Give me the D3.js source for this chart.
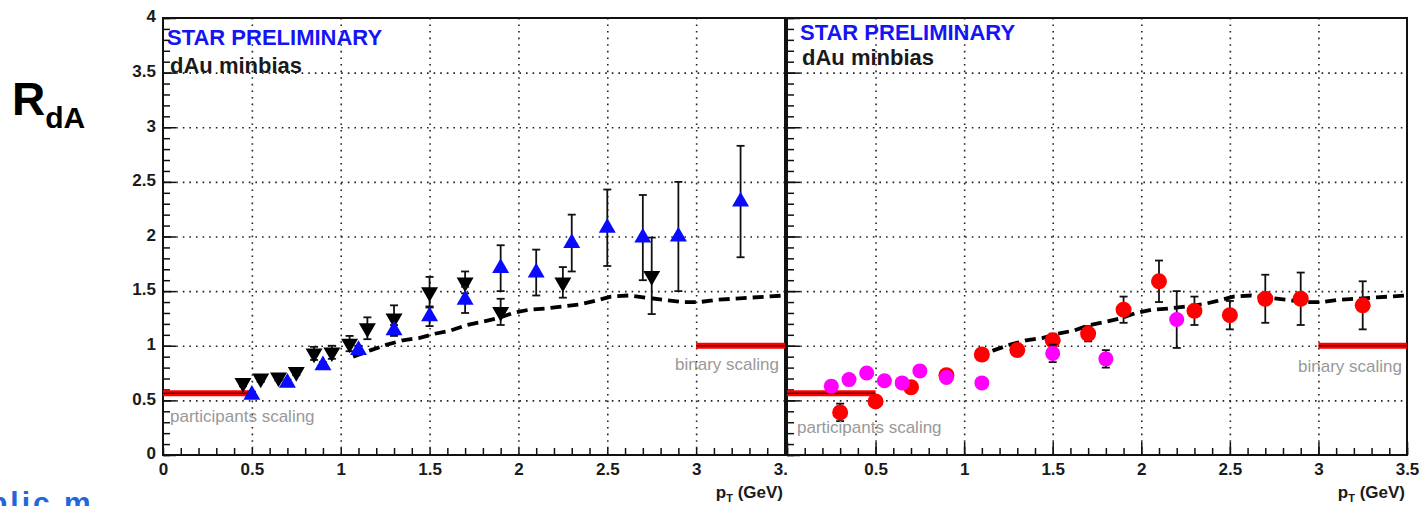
<!DOCTYPE html>
<html><head><meta charset="utf-8">
<script src="https://cdn.jsdelivr.net/npm/d3@7"></script>
<style>
html,body{margin:0;padding:0;background:#fff;}
svg{display:block;font-family:"Liberation Sans",Arial,Helvetica,sans-serif;}
</style></head><body>
<svg id="c" width="1423" height="506"></svg>
<script>
// ---- data ----
const blackX   = [0.45,0.55,0.65,0.75,0.85,0.95,1.05,1.15,1.3,1.5,1.7,1.9,2.25,2.75];
const blackY   = [0.66,0.70,0.71,0.76,0.93,0.94,1.02,1.16,1.25,1.49,1.58,1.31,1.58,1.64];
const blackErr = [0.03,0.03,0.03,0.03,0.06,0.06,0.07,0.10,0.12,0.14,0.10,0.12,0.14,0.35];
const blueX    = [0.5,0.7,0.9,1.1,1.3,1.5,1.7,1.9,2.1,2.3,2.5,2.7,2.9,3.25];
const blueY    = [0.55,0.66,0.82,0.96,1.14,1.27,1.42,1.71,1.67,1.94,2.08,1.99,2.0,2.32];
const blueErr  = [0.03,0.03,0.03,0.04,0.05,0.09,0.12,0.21,0.21,0.26,0.35,0.39,0.5,0.51];

const redX   = [0.3,0.5,0.7,0.9,1.1,1.3,1.5,1.7,1.9,2.1,2.3,2.5,2.7,2.9,3.25];
const redY   = [0.39,0.49,0.62,0.73,0.92,0.96,1.05,1.11,1.33,1.59,1.32,1.28,1.43,1.43,1.37];
const redErr = [0.08,0.03,0.03,0.03,0.04,0.05,0.06,0.07,0.12,0.19,0.13,0.13,0.22,0.24,0.22];
const magX   = [0.25,0.35,0.45,0.55,0.65,0.75,0.9,1.1,1.5,1.8,2.2];
const magY   = [0.63,0.69,0.75,0.68,0.66,0.77,0.71,0.66,0.93,0.88,1.24];
const magErr = [0.02,0.02,0.02,0.02,0.02,0.02,0.02,0.02,0.08,0.08,0.26];

const curveX = [1.07,1.17,1.26,1.35,1.44,1.53,1.62,1.71,1.80,1.88,1.97,2.06,2.15,2.25,2.35,2.43,2.52,2.62,2.72,2.82,2.92,3.02,3.11,3.21,3.30,3.40,3.50];
const curveY = [0.90,0.96,1.01,1.05,1.07,1.11,1.14,1.19,1.22,1.25,1.30,1.33,1.34,1.36,1.38,1.41,1.45,1.46,1.44,1.42,1.40,1.40,1.42,1.43,1.44,1.45,1.46];

const partX = [0, 0.5], partY = 0.565;
const binX  = [3.0, 3.5], binY = 1.0;

const xMajor = [0,0.5,1,1.5,2,2.5,3,3.5];
const xLabelsLeft  = ["0","0.5","1","1.5","2","2.5","3","3.5"];
const xLabelsRight = ["","0.5","1","1.5","2","2.5","3","3.5"];
const yMajor = [0,0.5,1,1.5,2,2.5,3,3.5,4];
const yLabels = ["0","0.5","1","1.5","2","2.5","3","3.5","4"];
const gridX = [0.5,1,1.5,2,2.5,3];
const gridY = [0.5,1,1.5,2,2.5,3,3.5];

// ---- drawing ----
const svg = d3.select("#c");
const y = d3.scaleLinear().domain([0,4]).range([455,18]);
const xMinor = d3.range(0,36).map(i=>i/10);
const yMinor = d3.range(0,41).map(i=>i/10);

svg.append("defs").append("clipPath").attr("id","clipL")
  .append("rect").attr("x",0).attr("y",0).attr("width",787).attr("height",506);

const panels = [
  {x:d3.scaleLinear().domain([0,3.5]).range([163,785]), labels:xLabelsLeft, yl:true,
   star:[167,45], dau:[170,73], part:[170,422], bin:[675,370], clip:"url(#clipL)",
   series:[
     {xs:blackX,ys:blackY,es:blackErr,type:"down",color:"#000"},
     {xs:blueX,ys:blueY,es:blueErr,type:"up",color:"#0a0aff"}
   ]},
  {x:d3.scaleLinear().domain([0,3.5]).range([787,1407]), labels:xLabelsRight, yl:false,
   star:[800,40], dau:[802,65], part:[797,433], bin:[1298,372], clip:null,
   series:[
     {xs:redX,ys:redY,es:redErr,type:"circle",color:"#ff0000",r:8},
     {xs:magX,ys:magY,es:magErr,type:"circle",color:"#ff00ff",r:7.5}
   ]}
];

const tickFont = {size:17, fill:"#1a1a1a"};

panels.forEach(p=>{
  const x = p.x;
  const x0 = x.range()[0], x1 = x.range()[1];
  const g = svg.append("g");

  // grid
  const gx = g.append("g").attr("transform",`translate(0,${y(0)})`)
    .call(d3.axisBottom(x).tickValues(gridX).tickSize(-(y(0)-y(4))).tickFormat(""));
  gx.select(".domain").remove();
  gx.selectAll("line").attr("stroke","#222").attr("stroke-width",1.6).attr("stroke-dasharray","1.6,5");
  const gy = g.append("g").attr("transform",`translate(${x0},0)`)
    .call(d3.axisLeft(y).tickValues(gridY).tickSize(-(x1-x0)).tickFormat(""));
  gy.select(".domain").remove();
  gy.selectAll("line").attr("stroke","#222").attr("stroke-width",1.6).attr("stroke-dasharray","1.6,5");

  // minor ticks
  const mx = g.append("g").attr("transform",`translate(0,${y(0)})`)
    .call(d3.axisBottom(x).tickValues(xMinor).tickSize(-7).tickFormat(""));
  mx.select(".domain").remove();
  mx.selectAll("line").attr("stroke","#111").attr("stroke-width",1.5);
  const my = g.append("g").attr("transform",`translate(${x0},0)`)
    .call(d3.axisLeft(y).tickValues(yMinor).tickSize(-7).tickFormat(""));
  my.select(".domain").remove();
  my.selectAll("line").attr("stroke","#111").attr("stroke-width",1.5);

  // major x axis with labels
  const ax = g.append("g").attr("transform",`translate(0,${y(0)})`)
    .call(d3.axisBottom(x).tickValues(xMajor).tickSizeInner(-13).tickSizeOuter(0).tickPadding(8)
      .tickFormat((d,i)=>p.labels[i]));
  ax.select(".domain").remove();
  ax.selectAll("line").attr("stroke","#111").attr("stroke-width",1.5);
  ax.selectAll("text").attr("font-size",tickFont.size).attr("font-weight","bold").attr("fill",tickFont.fill)
    .attr("font-family","Liberation Sans, Arial, sans-serif");
  if (p.clip) ax.attr("clip-path",p.clip);

  // major y axis
  const ay = g.append("g").attr("transform",`translate(${x0},0)`)
    .call(d3.axisLeft(y).tickValues(yMajor).tickSizeInner(-13).tickSizeOuter(0).tickPadding(7)
      .tickFormat((d,i)=>p.yl ? yLabels[i] : ""));
  ay.select(".domain").remove();
  ay.selectAll("line").attr("stroke","#111").attr("stroke-width",1.5);
  ay.selectAll("text").attr("font-size",tickFont.size).attr("font-weight","bold").attr("fill",tickFont.fill)
    .attr("dy","0.22em").attr("font-family","Liberation Sans, Arial, sans-serif");

  // frame
  g.append("rect").attr("x",x0).attr("y",y(4)).attr("width",x1-x0).attr("height",y(0)-y(4))
    .attr("fill","none").attr("stroke","#111").attr("stroke-width",2);

  // dashed curve
  const line = d3.line().x(i=>x(curveX[i])).y(i=>y(curveY[i]));
  g.append("path").attr("d",line(d3.range(curveX.length)))
    .attr("fill","none").attr("stroke","#000").attr("stroke-width",3.8)
    .attr("stroke-dasharray","11,6");

  // scaling bands
  [[partX,partY],[binX,binY]].forEach(([xs,v])=>{
    g.append("line").attr("x1",x(xs[0])).attr("x2",x(xs[1])).attr("y1",y(v)).attr("y2",y(v))
      .attr("stroke","#ff0000").attr("stroke-width",6);
    g.append("line").attr("x1",x(xs[0])).attr("x2",x(xs[1])).attr("y1",y(v)).attr("y2",y(v))
      .attr("stroke","#000").attr("stroke-width",1.2);
  });

  // series
  p.series.forEach(s=>{
    const idx = d3.range(s.xs.length);
    const eg = g.append("g").attr("stroke","#111").attr("stroke-width",1.8);
    idx.forEach(i=>{
      const cx = x(s.xs[i]), yt = y(s.ys[i]+s.es[i]), yb = y(s.ys[i]-s.es[i]);
      eg.append("line").attr("x1",cx).attr("x2",cx).attr("y1",yt).attr("y2",yb);
      eg.append("line").attr("x1",cx-4).attr("x2",cx+4).attr("y1",yt).attr("y2",yt);
      eg.append("line").attr("x1",cx-4).attr("x2",cx+4).attr("y1",yb).attr("y2",yb);
    });
    if (s.type==="circle"){
      g.append("g").selectAll("circle").data(idx).join("circle")
        .attr("cx",i=>x(s.xs[i])).attr("cy",i=>y(s.ys[i])).attr("r",s.r).attr("fill",s.color);
    } else {
      const sym = d3.symbol(d3.symbolTriangle).size(125);
      g.append("g").selectAll("path").data(idx).join("path")
        .attr("d",sym)
        .attr("transform",i=>`translate(${x(s.xs[i])},${y(s.ys[i])}) rotate(${s.type==="down"?180:0})`)
        .attr("fill",s.color);
    }
  });

  // labels
  g.append("text").attr("x",p.star[0]).attr("y",p.star[1]).attr("font-size",22).attr("font-weight","bold")
    .attr("fill","#1414f5").text("STAR PRELIMINARY");
  g.append("text").attr("x",p.dau[0]).attr("y",p.dau[1]).attr("font-size",22).attr("font-weight","bold")
    .attr("fill","#1a1a1a").text("dAu minbias");
  g.append("text").attr("x",p.part[0]).attr("y",p.part[1]).attr("font-size",17)
    .attr("fill","#999").text("participants scaling");
  g.append("text").attr("x",p.bin[0]).attr("y",p.bin[1]).attr("font-size",17)
    .attr("fill","#999").text("binary scaling");
  const t = g.append("text").attr("x",x1-2).attr("y",498).attr("text-anchor","end")
    .attr("font-size",17).attr("font-weight","bold").attr("fill","#1a1a1a");
  t.append("tspan").text("p");
  t.append("tspan").attr("font-size",11).attr("dy",4).text("T");
  t.append("tspan").attr("dy",-4).text(" (GeV)");
});

// R_dA label
const r = svg.append("text").attr("x",12).attr("y",115).attr("font-weight","bold").attr("fill","#000");
r.append("tspan").attr("font-size",46).text("R");
r.append("tspan").attr("font-size",30).attr("dy",13).text("dA");

// clipped blue text at the bottom left (cut by the picture edge, as in the reference)
svg.append("text").attr("x",-11).attr("y",513).attr("font-size",30).attr("font-weight","bold")
  .attr("letter-spacing",3).attr("fill","#2266dd").text("blic m");
</script>
</body></html>
